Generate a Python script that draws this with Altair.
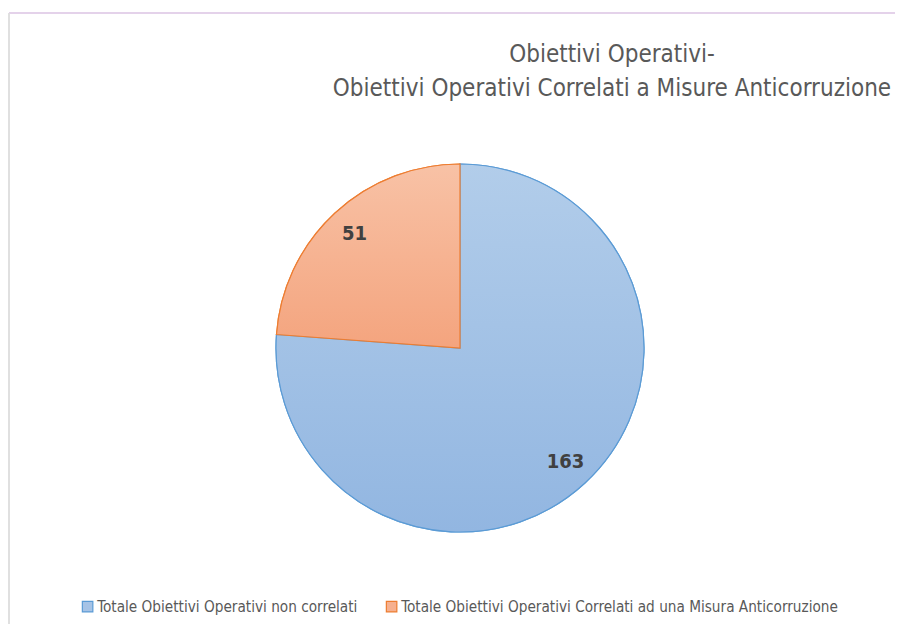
import altair as alt
import pandas as pd

categories = [
    "Totale Obiettivi Operativi non correlati",
    "Totale Obiettivi Operativi Correlati ad una Misura Anticorruzione",
]
values = [163, 51]
flat_colors = ["#a6c3e6", "#f6b08f"]
stroke_colors = ["#5b9bd5", "#ed7d31"]
title_lines = ["Obiettivi Operativi-", "Obiettivi Operativi Correlati a Misure Anticorruzione"]

df = pd.DataFrame({"cat": categories, "val": values, "order": [0, 1]})

FONT = "DejaVu Sans Condensed, Roboto Condensed, Liberation Sans Narrow, Arial Narrow, Roboto, sans-serif"

base = alt.Chart(df).transform_window(
    end="sum(val)", sort=[alt.SortField("order")], frame=[None, 0]
).transform_calculate(
    start="datum.end - datum.val", mid="datum.end - datum.val/2"
)

theta = alt.Theta("start:Q", scale=alt.Scale(domain=[0, sum(values)]))
theta2 = alt.Theta2("end:Q")
R = 184

legend_layer = base.mark_arc(radius=R, strokeWidth=1.2).encode(
    theta=theta,
    theta2=theta2,
    fill=alt.Fill(
        "cat:N",
        scale=alt.Scale(domain=categories, range=flat_colors),
        legend=alt.Legend(title=None, orient="none", direction="horizontal",
                          legendX=47, legendY=479, symbolType="square",
                          symbolSize=110, symbolStrokeWidth=1.2,
                          labelFont=FONT, labelFontSize=15.2, labelColor="#595959",
                          labelLimit=600, columnPadding=25, symbolOffset=0,
                          labelOffset=2),
    ),
    stroke=alt.Stroke("cat:N", scale=alt.Scale(domain=categories, range=stroke_colors)),
)

def grad(top, bottom):
    return alt.Gradient(gradient="linear",
                        stops=[alt.GradientStop(color=top, offset=0),
                               alt.GradientStop(color=bottom, offset=1)],
                        x1=0, x2=0, y1=0, y2=1)

blue_layer = base.transform_filter(alt.datum.order == 0).mark_arc(
    radius=R, fill=grad("#b2cdea", "#92b6e1"), stroke=stroke_colors[0], strokeWidth=1.2
).encode(theta=theta, theta2=theta2)

orange_layer = base.transform_filter(alt.datum.order == 1).mark_arc(
    radius=R, fill=grad("#f8c2a6", "#f4a47e"), stroke=stroke_colors[1], strokeWidth=1.2
).encode(theta=theta, theta2=theta2)

labels = base.mark_text(radius=155, font=FONT, fontSize=20, fontWeight="bold",
                        color="#404040").encode(
    theta=alt.Theta("mid:Q"),
    text=alt.Text("val:Q"),
)

top_border = alt.Chart(df).mark_rule(color="#e2cfe8", strokeWidth=1.5).encode(
    x=alt.value(-24), x2=alt.value(880), y=alt.value(-107)
)
left_border = alt.Chart(df).mark_rule(color="#dedede", strokeWidth=1.5).encode(
    x=alt.value(-24), y=alt.value(-107), y2=alt.value(520)
)

chart = alt.layer(
    top_border, left_border, legend_layer, blue_layer, orange_layer, labels
).properties(
    width=854,
    height=456,
    padding={"left": 25, "top": 112, "right": 8, "bottom": 48},
    autosize="none",
    title=alt.TitleParams(
        title_lines, anchor="middle", dx=152, dy=113, offset=24, frame="group",
        font=FONT, fontSize=24, fontWeight="normal", color="#595959", lineHeight=34,
    ),
).configure(background="white").configure_view(stroke=None)

chart.save("out.html", embed_options={"renderer": "svg", "actions": False})
